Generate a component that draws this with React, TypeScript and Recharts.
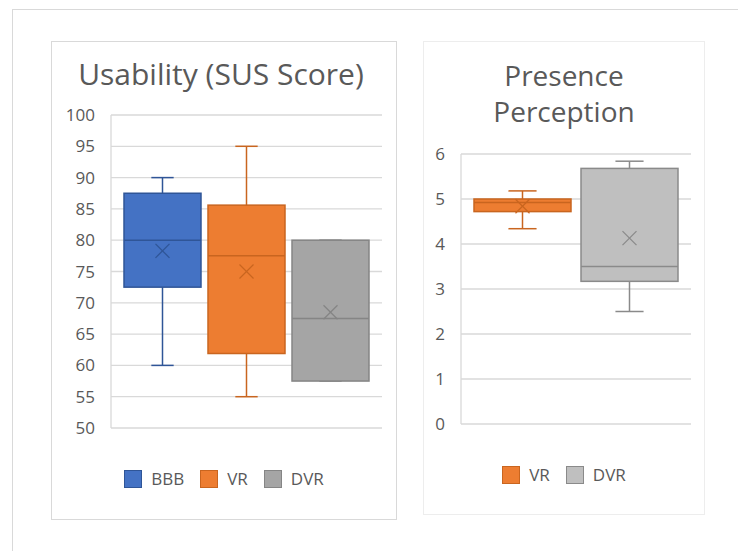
import { ComposedChart, Bar, XAxis, YAxis, CartesianGrid, Legend } from 'recharts'

// Usability (SUS Score)
const susGroups = ['BBB', 'VR', 'DVR']
const susMin = [60, 55, 57.5]
const susQ1 = [72.5, 61.9, 57.5]
const susMedian = [80, 77.5, 67.5]
const susQ3 = [87.5, 85.6, 80]
const susMax = [90, 95, 80]
const susMean = [78.3, 75, 68.5]
const susTicks = [50, 55, 60, 65, 70, 75, 80, 85, 90, 95, 100]

// Presence Perception
const presGroups = ['VR', 'DVR']
const presMin = [4.34, 2.5]
const presQ1 = [4.72, 3.17]
const presMedian = [4.92, 3.5]
const presQ3 = [5.0, 5.68]
const presMax = [5.18, 5.84]
const presMean = [4.84, 4.13]
const presTicks = [0, 1, 2, 3, 4, 5, 6]

const COLORS: Record<string, { fill: string; stroke: string }> = {
  BBB: { fill: '#4472C4', stroke: '#2F5597' },
  VR: { fill: '#ED7D31', stroke: '#C9651F' },
  DVR: { fill: '#A5A5A5', stroke: '#858585' },
}
const PRES_COLORS: Record<string, { fill: string; stroke: string }> = {
  VR: { fill: '#ED7D31', stroke: '#C9651F' },
  DVR: { fill: '#BFBFBF', stroke: '#8A8A8A' },
}

const FONT = '"Open Sans", sans-serif'
const TEXT = '#595959'
const GRID = '#D9D9D9'

interface Stats {
  min: number
  q1: number
  median: number
  q3: number
  max: number
  mean: number
}

function buildRow(groups: string[], mins: number[], maxs: number[]) {
  const row: Record<string, any> = { name: '' }
  groups.forEach((g, i) => {
    row[g] = [mins[i], maxs[i]]
  })
  return [row]
}

function buildStats(groups: string[], mins: number[], q1: number[], med: number[], q3: number[], maxs: number[], means: number[]) {
  const out: Record<string, Stats> = {}
  groups.forEach((g, i) => {
    out[g] = { min: mins[i], q1: q1[i], median: med[i], q3: q3[i], max: maxs[i], mean: means[i] }
  })
  return out
}

function BoxShape(props: any) {
  const { x, y, width, height, stats, fill, stroke } = props
  const s: Stats = stats
  const top = Math.min(y, y + height)
  const bottom = Math.max(y, y + height)
  const span = s.max - s.min
  // map a value into the bar's pixel range (bar spans min..max)
  const py = (v: number) => top + ((bottom - top) * (s.max - v)) / span
  const cx = x + width / 2
  const cap = width * 0.145
  const m = 7
  const my = py(s.mean)
  return (
    <g>
      <line x1={cx} x2={cx} y1={py(s.max)} y2={py(s.min)} stroke={stroke} strokeWidth={1.5} />
      <line x1={cx - cap} x2={cx + cap} y1={py(s.max)} y2={py(s.max)} stroke={stroke} strokeWidth={1.5} />
      <line x1={cx - cap} x2={cx + cap} y1={py(s.min)} y2={py(s.min)} stroke={stroke} strokeWidth={1.5} />
      <rect x={x} y={py(s.q3)} width={width} height={py(s.q1) - py(s.q3)} fill={fill} stroke={stroke} strokeWidth={1.5} />
      <line x1={x} x2={x + width} y1={py(s.median)} y2={py(s.median)} stroke={stroke} strokeWidth={1.5} />
      <line x1={cx - m} x2={cx + m} y1={my - m} y2={my + m} stroke={stroke} strokeWidth={1.3} />
      <line x1={cx - m} x2={cx + m} y1={my + m} y2={my - m} stroke={stroke} strokeWidth={1.3} />
    </g>
  )
}

function LegendContent({ payload, colors, groups }: any) {
  // keep the series order, not the legend's default alphabetical sort
  const items = [...(payload || [])].sort(
    (a: any, b: any) => groups.indexOf(a.dataKey) - groups.indexOf(b.dataKey)
  )
  return (
    <div style={{ display: 'flex', justifyContent: 'center', alignItems: 'center', height: 18 }}>
      {items.map((entry: any, i: number) => {
        const c = colors[entry.dataKey] || { fill: entry.color, stroke: entry.color }
        return (
          <div key={i} style={{ display: 'flex', alignItems: 'center', marginLeft: i === 0 ? 0 : 16 }}>
            <div
              style={{
                width: 18,
                height: 18,
                boxSizing: 'border-box',
                background: c.fill,
                border: `1.5px solid ${c.stroke}`,
              }}
            />
            <span style={{ marginLeft: 9, fontSize: 17, color: TEXT, fontFamily: FONT, lineHeight: '18px' }}>
              {entry.value}
            </span>
          </div>
        )
      })}
    </div>
  )
}

function BoxChart({ groups, data, stats, colors, domain, ticks, width, height, margin, barSize, barGap, legendTop, yWidth }: any) {
  return (
    <ComposedChart width={width} height={height} data={data} margin={margin} barSize={barSize} barGap={barGap}>
      <CartesianGrid vertical={false} stroke={GRID} strokeWidth={1.3} />
      <XAxis dataKey="name" hide />
      <YAxis
        domain={domain}
        ticks={ticks}
        interval={0}
        width={yWidth}
        tickLine={false}
        tickSize={0}
        tickMargin={16}
        axisLine={{ stroke: GRID, strokeWidth: 1.3 }}
        tick={{ fill: TEXT, fontSize: 17, fontFamily: FONT }}
      />
      <Legend
        verticalAlign="middle"
        layout="horizontal"
        align="center"
        wrapperStyle={{ top: legendTop, left: 0, width: width }}
        content={(p: any) => <LegendContent payload={p.payload} colors={colors} groups={groups} />}
      />
      {groups.map((g: string) => (
        <Bar
          key={g}
          dataKey={g}
          name={g}
          fill={colors[g].fill}
          stroke={colors[g].stroke}
          legendType="square"
          isAnimationActive={false}
          shape={(p: any) => <BoxShape {...p} stats={stats[g]} fill={colors[g].fill} stroke={colors[g].stroke} />}
        />
      ))}
    </ComposedChart>
  )
}

const susData = buildRow(susGroups, susMin, susMax)
const susStats = buildStats(susGroups, susMin, susQ1, susMedian, susQ3, susMax, susMean)
const presData = buildRow(presGroups, presMin, presMax)
const presStats = buildStats(presGroups, presMin, presQ1, presMedian, presQ3, presMax, presMean)

const titleStyle: React.CSSProperties = {
  position: 'absolute',
  left: 0,
  width: '100%',
  textAlign: 'center',
  fontSize: 28,
  lineHeight: '36px',
  color: TEXT,
  fontFamily: FONT,
}

export default function App() {
  return (
    <div
      style={{
        position: 'absolute',
        left: 0,
        top: 0,
        width: 738,
        height: 551,
        overflow: 'hidden',
        background: '#fff',
        fontFamily: FONT,
      }}
    >
      <div style={{ position: 'absolute', left: 12, top: 9, width: 800, height: 700, border: '1px solid #D9D9D9' }} />

      <div
        style={{
          position: 'absolute',
          left: 51,
          top: 41,
          width: 346,
          height: 479,
          border: '1px solid #D9D9D9',
          boxSizing: 'border-box',
          background: '#fff',
        }}
      >
        <div style={{ ...titleStyle, top: 14, fontSize: 30, left: -3 }}>Usability (SUS Score)</div>
        <div style={{ position: 'absolute', left: -1, top: -1 }}>
          <BoxChart
            groups={susGroups}
            data={susData}
            stats={susStats}
            colors={COLORS}
            domain={[50, 100]}
            ticks={susTicks}
            width={346}
            height={479}
            margin={{ top: 74, right: 15, bottom: 92, left: 0 }}
            yWidth={60}
            barSize={77}
            barGap={7}
            legendTop={429}
          />
        </div>
      </div>

      <div
        style={{
          position: 'absolute',
          left: 423,
          top: 41,
          width: 282,
          height: 474,
          border: '1px solid #EDEDED',
          boxSizing: 'border-box',
          background: '#fff',
        }}
      >
        <div style={{ ...titleStyle, top: 15 }}>
          Presence
          <br />
          Perception
        </div>
        <div style={{ position: 'absolute', left: -1, top: -1 }}>
          <BoxChart
            groups={presGroups}
            data={presData}
            stats={presStats}
            colors={PRES_COLORS}
            domain={[0, 6]}
            ticks={presTicks}
            width={282}
            height={474}
            margin={{ top: 113, right: 14, bottom: 91, left: 0 }}
            yWidth={38}
            barSize={97}
            barGap={10}
            legendTop={425}
          />
        </div>
      </div>
    </div>
  )
}
